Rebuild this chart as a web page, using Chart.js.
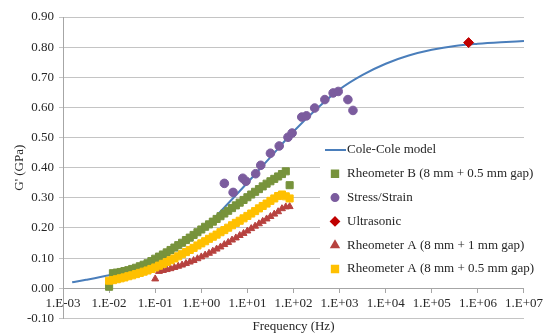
<!DOCTYPE html>
<html>
<head>
<meta charset="utf-8">
<script src="https://cdn.jsdelivr.net/npm/chart.js@4"></script>
<style>
    html, body { margin: 0; padding: 0; background: #fff; }
</style>
</head>
<body>
<canvas id="modulusChart" width="547" height="334"></canvas>
<script>
// Frequencies (Hz) shared by the rheometer sweeps, 12 per decade
const rheoFreq = [
    0.01, 0.0121, 0.0147, 0.0178, 0.0215, 0.0261, 0.0316, 0.0383, 0.0464, 0.0562, 0.0681, 0.0825,
    0.1, 0.121, 0.147, 0.178, 0.215, 0.261, 0.316, 0.383, 0.464, 0.562, 0.681, 0.825,
    1, 1.21, 1.47, 1.78, 2.15, 2.61, 3.16, 3.83, 4.64, 5.62, 6.81, 8.25,
    10, 12.1, 14.7, 17.8, 21.5, 26.1, 31.6, 38.3, 46.4, 56.2, 68.1, 82.5
];
const rheoB = [
    0.005, 0.050, 0.052, 0.054, 0.057, 0.060, 0.064, 0.068, 0.073, 0.078, 0.083, 0.090,
    0.098, 0.105, 0.112, 0.119, 0.127, 0.135, 0.143, 0.151, 0.160, 0.168, 0.177, 0.186,
    0.195, 0.204, 0.212, 0.221, 0.230, 0.239, 0.248, 0.257, 0.266, 0.275, 0.284, 0.293,
    0.302, 0.311, 0.320, 0.329, 0.338, 0.347, 0.355, 0.363, 0.371, 0.379, 0.388, 0.342
];
const rheoA1 = [
    null, null, null, null, null, null, null, null, null, null, null, null,
    0.031, 0.056, 0.059, 0.062, 0.065, 0.069, 0.073, 0.077, 0.082, 0.087, 0.092, 0.098,
    0.104, 0.110, 0.116, 0.123, 0.130, 0.137, 0.145, 0.152, 0.160, 0.167, 0.175, 0.182,
    0.190, 0.198, 0.206, 0.214, 0.222, 0.230, 0.238, 0.246, 0.254, 0.264, 0.270, 0.271
];
const rheoA05 = [
    0.025, 0.027, 0.030, 0.033, 0.036, 0.040, 0.043, 0.047, 0.051, 0.055, 0.059, 0.064,
    0.069, 0.075, 0.081, 0.087, 0.093, 0.099, 0.106, 0.113, 0.120, 0.127, 0.134, 0.142,
    0.149, 0.156, 0.164, 0.171, 0.178, 0.186, 0.193, 0.201, 0.209, 0.217, 0.224, 0.232,
    0.240, 0.248, 0.256, 0.265, 0.273, 0.281, 0.290, 0.298, 0.306, 0.311, 0.305, 0.298
];

const stressFreq = [3.16, 4.9, 7.94, 9.33, 15.1, 19.5, 31.6, 49, 75.9, 93.3, 151, 191, 288, 479, 724, 933, 1514, 1950];
const stressVal = [0.348, 0.318, 0.365, 0.355, 0.380, 0.408, 0.448, 0.472, 0.501, 0.515, 0.568, 0.572, 0.598, 0.626, 0.648, 0.653, 0.626, 0.590];

const ultraFreq = [630000];
const ultraVal = [0.815];

const modelFreq = [0.00158, 0.00316, 0.01, 0.0316, 0.1, 0.316, 1, 3.16, 10, 31.6, 100, 316, 1000, 3162, 10000, 31623, 100000, 316228, 1000000, 3162278, 10000000];
const modelVal = [0.020, 0.028, 0.043, 0.062, 0.090, 0.135, 0.190, 0.268, 0.350, 0.435, 0.520, 0.595, 0.660, 0.708, 0.745, 0.772, 0.791, 0.804, 0.811, 0.816, 0.820];

const xTicks = [1e-3, 1e-2, 1e-1, 1e0, 1e1, 1e2, 1e3, 1e4, 1e5, 1e6, 1e7];

const FONT = '"Liberation Serif", "Times New Roman", serif';
const TEXT = '#262626';
const GRID = '#c4c4c4';

function pairs(xs, ys) {
    const out = [];
    xs.forEach((x, i) => {
        if (ys[i] !== null) out.push({ x: x, y: ys[i] });
    });
    return out;
}

function expLabel(v) {
    const e = Math.round(Math.log10(v));
    const s = String(Math.abs(e)).padStart(2, '0');
    return '1.E' + (e < 0 ? '-' : '+') + s;
}

// legend drawn inside the plot, over the grid but under the marks
const boxLegend = {
    id: 'boxLegend',
    beforeDatasetsDraw(chart) {
        const ctx = chart.ctx;
        ctx.save();
        ctx.fillStyle = '#fff';
        ctx.fillRect(320, 141, 207, 142);
        ctx.font = '13px ' + FONT;
        ctx.textBaseline = 'middle';
        chart.data.datasets.forEach((ds, i) => {
            const y = 150 + i * 23.8;
            if (ds.showLine) {
                ctx.strokeStyle = ds.borderColor;
                ctx.lineWidth = 2;
                ctx.beginPath();
                ctx.moveTo(325, y);
                ctx.lineTo(346, y);
                ctx.stroke();
            } else {
                ctx.fillStyle = ds.backgroundColor;
                ctx.strokeStyle = ds.borderColor;
                Chart.helpers.drawPoint(ctx, {
                    pointStyle: ds.pointStyle,
                    radius: ds.legendRadius,
                    rotation: 0,
                    borderWidth: 1
                }, 335, y);
            }
            ctx.fillStyle = TEXT;
            ctx.fillText(ds.label, 347, y);
        });
        ctx.restore();
    }
};

const ctx = document.getElementById('modulusChart').getContext('2d');
new Chart(ctx, {
    type: 'scatter',
    data: {
        datasets: [
            {
                label: 'Cole-Cole model',
                data: pairs(modelFreq, modelVal),
                showLine: true,
                borderColor: '#4a7ebb',
                backgroundColor: '#4a7ebb',
                borderWidth: 2,
                pointRadius: 0,
                cubicInterpolationMode: 'monotone',
                order: 6
            },
            {
                label: 'Rheometer B (8 mm + 0.5 mm gap)',
                data: pairs(rheoFreq, rheoB),
                pointStyle: 'rect',
                pointRadius: 5,
                legendRadius: 4.5,
                backgroundColor: '#77933c',
                borderColor: '#77933c',
                order: 5
            },
            {
                label: 'Stress/Strain',
                data: pairs(stressFreq, stressVal),
                pointStyle: 'circle',
                pointRadius: 4.3,
                legendRadius: 3.5,
                backgroundColor: '#7b5c9e',
                borderColor: '#7b5c9e',
                order: 4
            },
            {
                label: 'Ultrasonic',
                data: pairs(ultraFreq, ultraVal),
                pointStyle: 'rectRot',
                pointRadius: 5,
                legendRadius: 4,
                backgroundColor: '#c00000',
                borderColor: '#c00000',
                order: 3
            },
            {
                label: 'Rheometer A (8 mm + 1 mm gap)',
                data: pairs(rheoFreq, rheoA1),
                pointStyle: 'triangle',
                pointRadius: 4,
                legendRadius: 4,
                backgroundColor: '#b7423f',
                borderColor: '#b7423f',
                order: 2
            },
            {
                label: 'Rheometer A (8 mm + 0.5 mm gap)',
                data: pairs(rheoFreq, rheoA05),
                pointStyle: 'rect',
                pointRadius: 5,
                legendRadius: 4.5,
                backgroundColor: '#ffc000',
                borderColor: '#ffc000',
                order: 1
            }
        ]
    },
    options: {
        responsive: false,
        animation: false,
        events: [],
        layout: {
            padding: { top: 17, right: 20, bottom: 0, left: 0 }
        },
        scales: {
            x: {
                type: 'logarithmic',
                position: { y: 0 },
                min: 1e-3,
                max: 1e7,
                afterBuildTicks: axis => {
                    axis.ticks = xTicks.map(v => ({ value: v }));
                },
                ticks: {
                    callback: v => expLabel(v),
                    font: { family: FONT, size: 13 },
                    color: TEXT,
                    padding: 4,
                    maxRotation: 0,
                    autoSkip: false
                },
                grid: {
                    drawOnChartArea: false,
                    drawTicks: true,
                    tickLength: 4,
                    color: '#a6a6a6'
                },
                border: { display: true, color: '#a6a6a6' }
            },
            y: {
                min: -0.1,
                max: 0.9,
                afterFit: axis => { axis.width = 63; },
                ticks: {
                    stepSize: 0.1,
                    callback: v => v.toFixed(2),
                    font: { family: FONT, size: 13 },
                    color: TEXT,
                    padding: 5
                },
                grid: {
                    color: GRID,
                    tickLength: 4
                },
                border: { display: true, color: '#a6a6a6' },
                title: {
                    display: true,
                    text: "G' (GPa)",
                    font: { family: FONT, size: 13 },
                    color: TEXT,
                    padding: { top: 12, bottom: 0 }
                }
            }
        },
        plugins: {
            legend: { display: false },
            tooltip: { enabled: false },
            title: {
                display: true,
                position: 'bottom',
                fullSize: false,
                text: 'Frequency (Hz)',
                font: { family: FONT, size: 13, weight: 'normal' },
                color: TEXT,
                padding: { top: 0, bottom: 0 }
            }
        }
    },
    plugins: [boxLegend]
});
</script>
</body>
</html>
